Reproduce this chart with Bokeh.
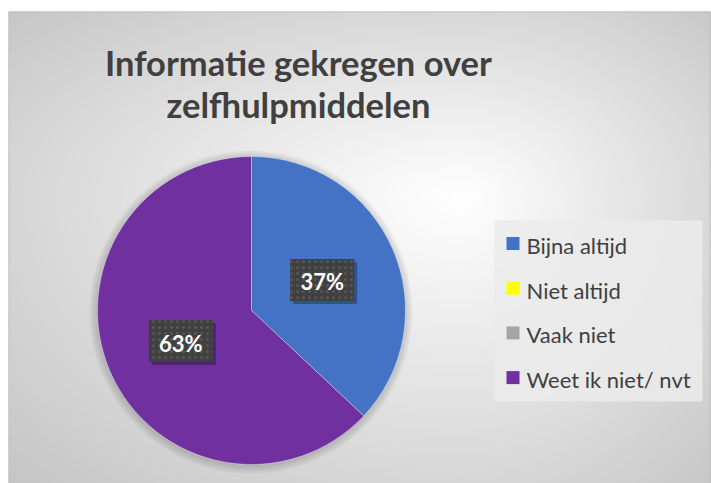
import numpy as np
from bokeh.plotting import figure
from bokeh.models import Range1d, ColumnDataSource
from bokeh.core.properties import value
from bokeh.embed import file_html
from bokeh.resources import INLINE

# ---- data ----
title_lines = ["Informatie gekregen over", "zelfhulpmiddelen"]
categories = ["Bijna altijd", "Niet altijd", "Vaak niet", "Weet ik niet/ nvt"]
shares = [37, 0, 0, 63]
colors = ["#4472C4", "#FFFF00", "#A5A5A5", "#7030A0"]

W, H = 711, 483
FONT = "Lato"

p = figure(width=W, height=H, x_range=Range1d(0, W), y_range=Range1d(0, H),
           output_backend="svg", toolbar_location=None, min_border=0)
p.axis.visible = False
p.grid.visible = False
p.outline_line_color = None
p.background_fill_color = "white"
p.border_fill_color = "white"


def X(px):
    return px


def Y(py):
    return H - py


# ---- background radial gradient ----
jj, ii = np.mgrid[0:H, 0:W]
pxg = ii + 0.5
pyg = H - (jj + 0.5)
gcx, gcy = 460.0, 195.0
dx = np.where(pxg < gcx, (pxg - gcx) / 460.0, (pxg - gcx) / 280.0)
dy = np.where(pyg < gcy, (pyg - gcy) / 200.0, (pyg - gcy) / 300.0)
t = np.sqrt(dx ** 2 + dy ** 2)
v = np.clip(255 - 42 * t, 190, 255).astype(np.uint32)
img = (np.uint32(255) << 24) | (v << 16) | (v << 8) | v
img[(pyg < 11) | (pxg < 8)] = np.uint32(0xFFFFFFFF)
p.image_rgba(image=[img.astype(np.uint32)], x=0, y=0, dw=W, dh=H)

# chart border (left / top / right)
p.quad(left=X(8.5), right=X(709.5), top=Y(11.5), bottom=-5,
       fill_color=None, line_color="#bfbfbf", line_width=1)

# ---- title ----
p.text(x=[X(298)] * 2, y=[Y(62), Y(104)], text=title_lines,
       text_align="center", text_baseline="alphabetic",
       text_font=value(FONT), text_font_style="bold", text_font_size="34.5px",
       text_color="#404040")

# ---- pie ----
cx, cy, R = X(251), Y(310), 154
total = float(sum(shares))
frac = np.array(shares) / total
cum = np.concatenate([[0.0], np.cumsum(frac)])
start = np.pi / 2 - 2 * np.pi * cum[:-1]
end = np.pi / 2 - 2 * np.pi * cum[1:]
nz = [i for i, s in enumerate(shares) if s > 0]

# soft shadow around pie
for k in range(1, 9):
    p.circle(x=cx - 0.5, y=cy - 1.5, radius=R + k, fill_color="black",
             fill_alpha=0.02, line_color=None)

src = ColumnDataSource(dict(
    cat=[categories[i] for i in nz],
    start=[start[i] for i in nz],
    end=[end[i] for i in nz],
    color=[colors[i] for i in nz],
))
p.wedge(x=cx, y=cy, radius=R, start_angle="start", end_angle="end",
        direction="clock", fill_color="color", line_color="#ffffff",
        line_width=0.6, line_alpha=0.6, source=src)

# ---- data labels ----
mid = (start + end) / 2
lx = [cx + 0.5 * R * np.cos(mid[i]) for i in nz]
ly = [cy + 0.5 * R * np.sin(mid[i]) for i in nz]
ltxt = ["%d%%" % round(shares[i] / total * 100) for i in nz]
p.rect(x=[a + 3 for a in lx], y=[b - 3 for b in ly], width=64, height=42,
       fill_color="black", fill_alpha=0.28, line_color=None)
p.rect(x=lx, y=ly, width=64, height=42, fill_color="#404040",
       hatch_pattern="dot", hatch_color="#555555", hatch_scale=6,
       hatch_weight=1, line_color=None)
p.text(x=lx, y=[b - 2 for b in ly], text=ltxt, text_align="center",
       text_baseline="alphabetic", text_font=value(FONT),
       text_font_style="bold", text_font_size="22px", text_color="white")

# ---- legend ----
p.quad(left=X(494), right=X(702), top=Y(220), bottom=Y(401),
       fill_color="#ebebeb", fill_alpha=0.85, line_color=None)
row_y = [Y(243 + i * 44.7) for i in range(len(categories))]
p.rect(x=[X(512.5)] * len(categories), y=row_y, width=13, height=13,
       fill_color=colors, line_color=None)
p.text(x=[X(526)] * len(categories), y=[r - 2 for r in row_y], text=categories,
       text_align="left", text_baseline="alphabetic", text_font=value(FONT),
       text_font_size="22px", text_color="#404040")

open("out.html", "w").write(file_html(p, INLINE))
